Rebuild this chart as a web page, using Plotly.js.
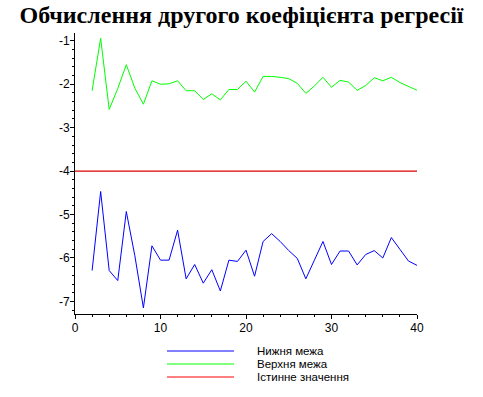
<!DOCTYPE html>
<html><head><meta charset="utf-8">
<script src="https://cdn.plot.ly/plotly-3.0.1.min.js"></script>
<style>html,body{margin:0;padding:0;background:#fff;}#chart{width:483px;height:397px;}</style>
</head><body><div id="chart"></div>
<script>
const xs = [2,3,4,5,6,7,8,9,10,11,12,13,14,15,16,17,18,19,20,21,22,23,24,25,26,27,28,29,30,31,32,33,34,35,36,37,38,39,40];
const lower = [-6.29,-4.47,-6.29,-6.52,-4.93,-5.95,-7.15,-5.72,-6.05,-6.05,-5.36,-6.48,-6.15,-6.58,-6.27,-6.76,-6.05,-6.08,-5.82,-6.42,-5.62,-5.44,-5.62,-5.83,-6.01,-6.48,-6.05,-5.62,-6.15,-5.84,-5.84,-6.16,-5.92,-5.83,-6.0,-5.53,-5.8,-6.07,-6.17];
const upper = [-2.15,-0.94,-2.58,-2.1,-1.55,-2.09,-2.46,-1.92,-2.0,-1.99,-1.92,-2.15,-2.15,-2.35,-2.22,-2.36,-2.12,-2.12,-1.93,-2.18,-1.82,-1.82,-1.84,-1.87,-1.98,-2.21,-2.04,-1.84,-2.07,-1.91,-1.95,-2.14,-2.03,-1.85,-1.92,-1.84,-1.96,-2.05,-2.14];
const trueX = [0, 40];
const trueY = [-4, -4];
const seriesNames = ["Нижня межа", "Верхня межа", "Істинне значення"];
const seriesColors = ["#0000ff", "#00ff00", "#ff0000"];
const lineColors = ["#0000ff", "#00ff00", "#dd0000"];
const xTickVals = [0,10,20,30,40];
const xTickText = ["0","10","20","30","40"];
const yTickVals = [-7,-6,-5,-4,-3,-2,-1];
const yTickText = ["-7","-6","-5","-4","-3","-2","-1"];
const titleText = "Обчислення другого коефіцієнта регресії";

const traces = [
  {x: xs, y: lower, mode: "lines", line: {color: lineColors[0], width: 1}, name: seriesNames[0]},
  {x: xs, y: upper, mode: "lines", line: {color: lineColors[1], width: 1}, name: seriesNames[1]},
  {x: trueX, y: trueY, mode: "lines", line: {color: lineColors[2], width: 1.2}, name: seriesNames[2]}
];

const L = 75, R = 417, T = 33, B = 314;
const W = R - L, H = B - T;
const legendRows = [351, 364, 377];
const shapes = [], annotations = [];
seriesNames.forEach((n, i) => {
  const py = legendRows[i];
  shapes.push({type: "line", xref: "paper", yref: "paper",
    x0: (167 - L) / W, x1: (234 - L) / W, y0: (B - py) / H, y1: (B - py) / H,
    line: {color: seriesColors[i], width: 1}});
  annotations.push({xref: "paper", yref: "paper", x: (255 - L) / W, y: (B - py) / H,
    xanchor: "left", yanchor: "middle", showarrow: false, text: n,
    font: {family: "Liberation Sans, Arial, sans-serif", size: 11.5, color: "#000"}});
});

const axisFont = {family: "Liberation Sans, Arial, sans-serif", size: 12, color: "#000"};
const layout = {
  width: 483, height: 397,
  margin: {l: L, r: 483 - R, t: T, b: 397 - B, pad: 0},
  paper_bgcolor: "#fff", plot_bgcolor: "#fff",
  showlegend: false,
  title: {text: "<b>" + titleText + "</b>", x: 0.5, xref: "container", xanchor: "center", y: 0.962, yref: "container", yanchor: "middle",
    font: {family: "Liberation Serif, Times New Roman, serif", size: 24, color: "#000"}},
  xaxis: {range: [0, 40], showgrid: false, zeroline: false, showline: true, linecolor: "#000", linewidth: 1,
    ticks: "outside", ticklen: 4, tickcolor: "#000", tickwidth: 1,
    tickvals: xTickVals, ticktext: xTickText, tickfont: axisFont, ticklabelstandoff: -1,
    minor: {dtick: 2, ticks: "outside", ticklen: 2, tickcolor: "#000", tickwidth: 1}},
  yaxis: {range: [-7.29, -0.82], showgrid: false, zeroline: false, showline: true, linecolor: "#000", linewidth: 1,
    ticks: "outside", ticklen: 4, tickcolor: "#000", tickwidth: 1,
    tickvals: yTickVals, ticktext: yTickText, tickfont: axisFont, ticklabelstandoff: -2,
    minor: {dtick: 0.2, tick0: -7, ticks: "outside", ticklen: 2, tickcolor: "#000", tickwidth: 1}},
  shapes: shapes,
  annotations: annotations
};
Plotly.newPlot("chart", traces, layout, {staticPlot: true, displayModeBar: false});
</script>
</body></html>
